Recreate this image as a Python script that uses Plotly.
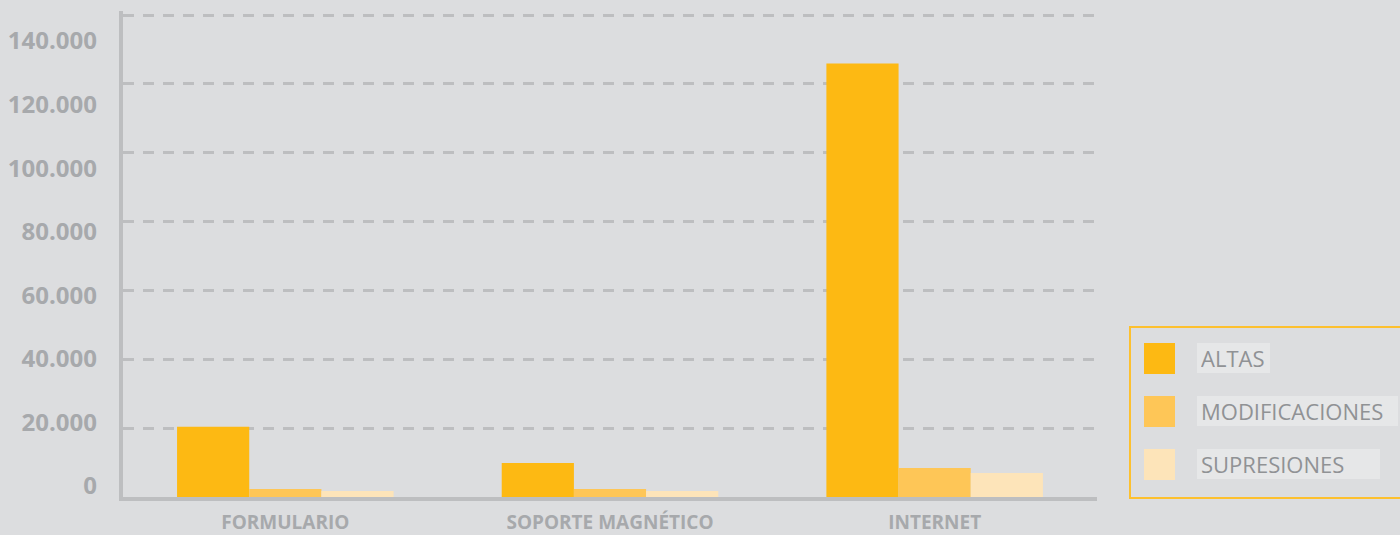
import plotly.graph_objects as go

categories = ["FORMULARIO", "SOPORTE MAGNÉTICO", "INTERNET"]
altas = [20400, 9900, 125900]
modificaciones = [2300, 2300, 8450]
supresiones = [1750, 1750, 7000]
series_names = ["ALTAS", "MODIFICACIONES", "SUPRESIONES"]
series_colors = ["#FDB913", "#FEC657", "#FDE4B9"]
tick_vals = [0, 20000, 40000, 60000, 80000, 100000, 120000, 140000]
tick_text = ["0", "20.000", "40.000", "60.000", "80.000", "100.000", "120.000", "140.000"]

BG = "#DCDDDF"
GRID = "#BDBEC0"
LABEL = "#A7A9AC"

TOP, BOTTOM, LEFT, RIGHT = 11, 497, 123, 1097
H = BOTTOM - TOP
y_top = 140000 * H / (BOTTOM - 15)   # 140000 lands at pixel row 15

fig = go.Figure()
for name, vals, col in zip(series_names, [altas, modificaciones, supresiones], series_colors):
    fig.add_trace(go.Bar(x=categories, y=vals, name=name, marker=dict(color=col, line=dict(width=0)),
                         showlegend=False))

# invisible helper trace so the label axis is rendered
fig.add_trace(go.Scatter(x=[categories[0]], y=[0], yaxis="y2", mode="markers",
                         marker=dict(opacity=0), showlegend=False, hoverinfo="skip"))

# label axis: "0" label at row 486, "140.000" label at row 41
k = (486 - 41) / 140000
r0 = -(BOTTOM - 486) / k
r1 = r0 + H / k

fig.update_layout(
    width=1400, height=535, autosize=False,
    margin=dict(l=LEFT, r=1400 - RIGHT, t=TOP, b=535 - BOTTOM, autoexpand=False),
    paper_bgcolor=BG, plot_bgcolor=BG,
    barmode="group", bargap=0.333, bargroupgap=0,
    font=dict(family="Open Sans", color=LABEL),
    xaxis=dict(showline=True, linecolor=GRID, linewidth=4, layer="below traces", automargin=False,
               showgrid=False, ticks="", ticklabelstandoff=5,
               tickfont=dict(family="Open Sans", size=19, color=LABEL, weight="bold")),
    yaxis=dict(range=[0, y_top], tickmode="array", tickvals=tick_vals, showticklabels=False,
               showgrid=True, gridcolor=GRID, gridwidth=3, griddash="11px,9px", zeroline=False,
               showline=True, linecolor=GRID, linewidth=4, ticks="", layer="below traces",
               automargin=False),
    yaxis2=dict(overlaying="y", side="left", range=[r0, r1], tickmode="array",
                tickvals=tick_vals, ticktext=tick_text, showgrid=False, zeroline=False,
                showline=False, ticks="", ticklabelstandoff=25, automargin=False,
                tickfont=dict(family="Open Sans", size=24, color=LABEL, weight="bold")),
)

# legend drawn manually
def px_x(p):
    return (p - LEFT) / (RIGHT - LEFT)

def px_y(p):
    return (BOTTOM - p) / H

fig.add_shape(type="rect", xref="paper", yref="paper", x0=px_x(1130), x1=px_x(1402),
              y0=px_y(498), y1=px_y(327), line=dict(color="#FDC02E", width=2), fillcolor="rgba(0,0,0,0)")
item_tops = [343, 396, 449]
box_widths = [73, 201, 183]
for name, col, top, bw in zip(series_names, series_colors, item_tops, box_widths):
    fig.add_shape(type="rect", xref="paper", yref="paper", x0=px_x(1144), x1=px_x(1175),
                  y0=px_y(top + 31), y1=px_y(top), line=dict(width=0), fillcolor=col)
    fig.add_annotation(xref="paper", yref="paper", x=px_x(1197), y=px_y(top + 15),
                       xanchor="left", yanchor="middle", text=name, showarrow=False,
                       width=bw - 8, height=22, align="left", bgcolor="#E6E7E8", borderpad=4,
                       borderwidth=0, font=dict(family="Open Sans", size=22, color="#909295"))

fig.write_html("out.html", config={"displayModeBar": False},
               post_script="document.body.style.margin='0';document.body.style.background='#DCDDDF';")
